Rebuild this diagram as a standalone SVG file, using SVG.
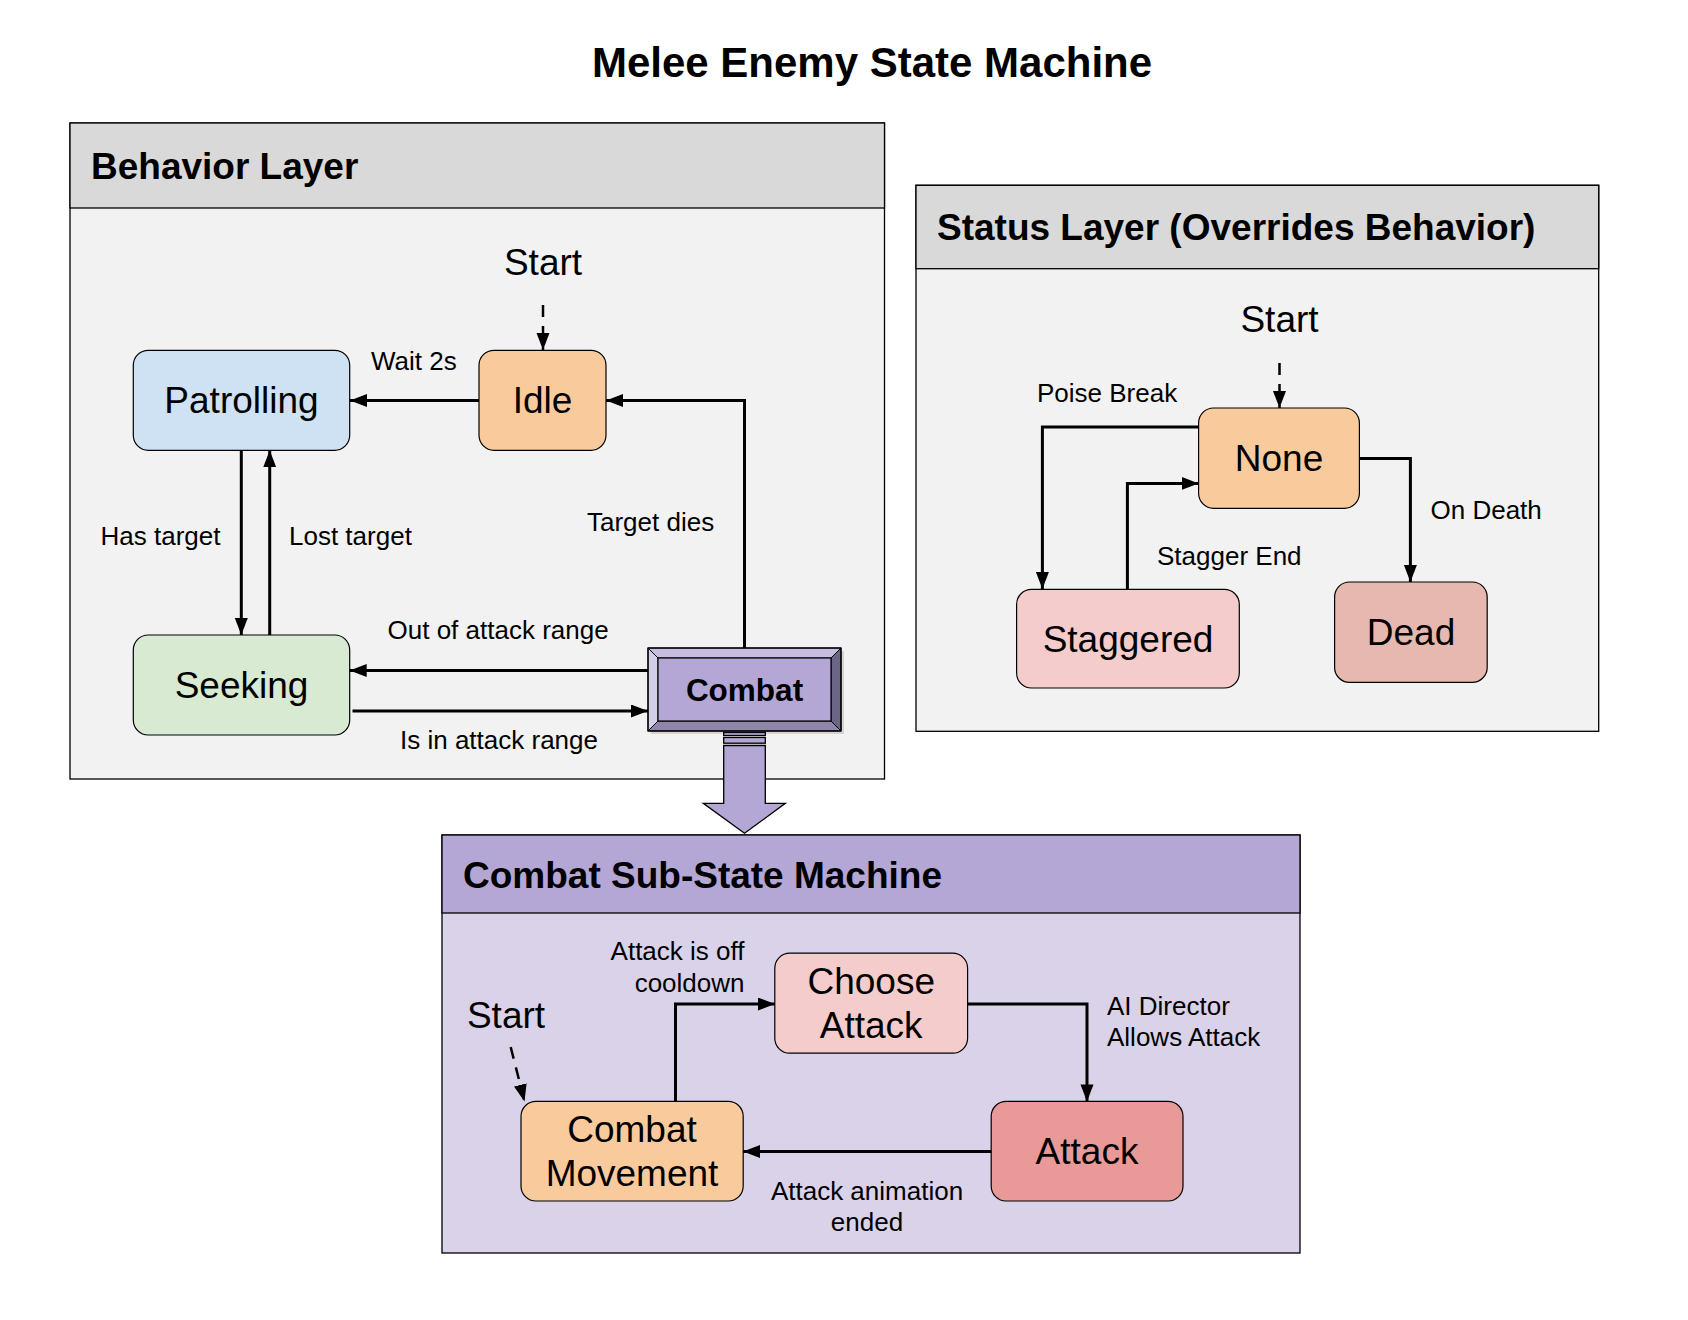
<svg xmlns="http://www.w3.org/2000/svg" width="1688" height="1320" viewBox="0 0 1688 1320">
  <defs>
    <marker id="arr" markerUnits="userSpaceOnUse" markerWidth="18" markerHeight="14" refX="17" refY="6.5" orient="auto">
      <path d="M0,0 L17,6.5 L0,13 z" fill="#000"/>
    </marker>
    <style>
      text { font-family: "Liberation Sans", Arial, sans-serif; fill: #000; }
      .title { font-size: 42px; font-weight: bold; text-anchor: middle; }
      .hdr { font-size: 37px; font-weight: bold; }
      .node-text { font-size: 37px; text-anchor: middle; }
      .lbl { font-size: 26px; }
      .mid { text-anchor: middle; }
      .end { text-anchor: end; }
      .cont-body { fill: #f2f2f2; stroke: #000; stroke-width: 1.3; }
      .cont-head { fill: #d9d9d9; stroke: #000; stroke-width: 1.3; }
      .node { stroke: #000; stroke-width: 1.2; }
      .edge { fill: none; stroke: #000; stroke-width: 3; marker-end: url(#arr); }
      .dash { fill: none; stroke: #000; stroke-width: 2.5; stroke-dasharray: 12 9; marker-end: url(#arr); }
    </style>
  </defs>
  <rect width="1688" height="1320" fill="#fff"/>

  <text class="title" x="872" y="77">Melee Enemy State Machine</text>

  <!-- Behavior layer container -->
  <g id="behavior-layer">
    <rect class="cont-body" x="70" y="123" width="814.5" height="656"/>
    <rect class="cont-head" x="70" y="123" width="814.5" height="85"/>
    <text class="hdr" x="91" y="179">Behavior Layer</text>
  </g>

  <!-- Status layer container -->
  <g id="status-layer">
    <rect class="cont-body" x="916" y="185.3" width="682.7" height="546"/>
    <rect class="cont-head" x="916" y="185.3" width="682.7" height="83.4"/>
    <text class="hdr" x="937" y="240">Status Layer (Overrides Behavior)</text>
  </g>

  <!-- Combat sub-state container -->
  <g id="combat-substate">
    <rect x="442" y="835" width="858" height="418" fill="#d9d2e9" stroke="#000" stroke-width="1.3"/>
    <rect x="442" y="835" width="858" height="78" fill="#b4a7d6" stroke="#000" stroke-width="1.3"/>
    <text class="hdr" x="463" y="888">Combat Sub-State Machine</text>
  </g>

  <!-- Flex arrow from Combat to sub-state machine -->
  <g id="combat-expand-arrow" stroke="#000" stroke-width="1.3">
    <rect x="723.7" y="732.3" width="41.6" height="3.2" fill="#b4a7d6"/>
    <rect x="723.7" y="737.5" width="41.6" height="5.7" fill="#b4a7d6"/>
    <polygon points="723.7,745.5 765.3,745.5 765.3,803.3 785.3,803.3 744.5,833.3 703.3,803.3 723.7,803.3" fill="#b4a7d6"/>
  </g>

  <!-- Start labels -->
  <g id="start-behavior"><text class="node-text" x="543" y="275">Start</text></g>
  <g id="start-status"><text class="node-text" x="1279.5" y="332">Start</text></g>
  <g id="start-combat"><text class="node-text" x="506" y="1028">Start</text></g>

  <!-- Behavior nodes -->
  <g id="patrolling">
    <rect class="node" x="133.3" y="350.3" width="216.4" height="100" rx="15" fill="#cfe2f3"/>
    <text class="node-text" x="241.5" y="413">Patrolling</text>
  </g>
  <g id="idle">
    <rect class="node" x="479" y="350.3" width="127" height="100" rx="15" fill="#f9cb9c"/>
    <text class="node-text" x="542.5" y="413">Idle</text>
  </g>
  <g id="seeking">
    <rect class="node" x="133.3" y="635" width="216.4" height="100" rx="15" fill="#d9ead3"/>
    <text class="node-text" x="241.5" y="698">Seeking</text>
  </g>
  <g id="combat">
    <rect x="651" y="651" width="193" height="83" fill="#000" opacity="0.12"/>
    <rect x="648" y="648" width="193" height="83" fill="#b4a7d6"/>
    <polygon points="648,648 841,648 831,658 658,658" fill="#c6bde0" stroke="#000" stroke-width="1"/>
    <polygon points="648,648 658,658 658,721 648,731" fill="#d5cee9" stroke="#000" stroke-width="1"/>
    <polygon points="841,648 841,731 831,721 831,658" fill="#6d6586" stroke="#000" stroke-width="1"/>
    <polygon points="648,731 658,721 831,721 841,731" fill="#8f86aa" stroke="#000" stroke-width="1"/>
    <rect x="658" y="658" width="173" height="63" fill="#b4a7d6" stroke="#000" stroke-width="1.2"/>
    <rect x="648" y="648" width="193" height="83" fill="none" stroke="#000" stroke-width="1.3"/>
    <text x="744.5" y="701" text-anchor="middle" font-size="31.5" font-weight="bold">Combat</text>
  </g>

  <!-- Status nodes -->
  <g id="none">
    <rect class="node" x="1198.6" y="408" width="160.8" height="100.3" rx="15" fill="#f9cb9c"/>
    <text class="node-text" x="1279" y="471">None</text>
  </g>
  <g id="staggered">
    <rect class="node" x="1016.6" y="589.4" width="222.7" height="98.6" rx="15" fill="#f4cccc"/>
    <text class="node-text" x="1128" y="652">Staggered</text>
  </g>
  <g id="dead">
    <rect class="node" x="1334.6" y="582" width="152.6" height="100.4" rx="15" fill="#e6b8af"/>
    <text class="node-text" x="1411" y="645">Dead</text>
  </g>

  <!-- Combat sub-state nodes -->
  <g id="choose-attack">
    <rect class="node" x="774.8" y="953.2" width="192.8" height="100" rx="15" fill="#f4cccc"/>
    <text class="node-text" x="871.2" y="994">Choose</text>
    <text class="node-text" x="871.2" y="1038.4">Attack</text>
  </g>
  <g id="attack">
    <rect class="node" x="991.2" y="1101.4" width="191.8" height="99.6" rx="15" fill="#ea9999"/>
    <text class="node-text" x="1087" y="1164">Attack</text>
  </g>
  <g id="combat-movement">
    <rect class="node" x="521" y="1101.4" width="222.2" height="99.6" rx="15" fill="#f9cb9c"/>
    <text class="node-text" x="632" y="1142">Combat</text>
    <text class="node-text" x="632" y="1186.4">Movement</text>
  </g>

  <!-- Connectors -->
  <g id="connectors">
    <path class="dash" d="M543,305 L543,350"/>
    <path class="edge" d="M479,400.5 L350,400.5"/>
    <path class="edge" d="M744.5,648 L744.5,400.5 L606,400.5"/>
    <path class="edge" d="M241.3,450.3 L241.3,635"/>
    <path class="edge" d="M269.7,635 L269.7,450.3"/>
    <path class="edge" d="M648,670.5 L349.7,670.5"/>
    <path class="edge" d="M352.5,711 L648,711"/>

    <path class="dash" d="M1279.5,363 L1279.5,408"/>
    <path class="edge" d="M1198.6,427 L1042.4,427 L1042.4,589"/>
    <path class="edge" d="M1127.4,589.4 L1127.4,483.4 L1198.6,483.4"/>
    <path class="edge" d="M1359.4,458.5 L1410.4,458.5 L1410.4,582"/>

    <path class="dash" d="M510.7,1047 L524.5,1101.4"/>
    <path class="edge" d="M675.5,1101.4 L675.5,1004 L774.8,1004"/>
    <path class="edge" d="M967.6,1004 L1087,1004 L1087,1101.4"/>
    <path class="edge" d="M991.2,1151.5 L743.2,1151.5"/>
  </g>

  <!-- Connector labels -->
  <g id="labels">
    <text class="lbl" x="371" y="370">Wait 2s</text>
    <text class="lbl" x="100.5" y="545">Has target</text>
    <text class="lbl" x="289" y="545">Lost target</text>
    <text class="lbl" x="587" y="531">Target dies</text>
    <text class="lbl" x="387.5" y="639">Out of attack range</text>
    <text class="lbl" x="400" y="749">Is in attack range</text>
    <text class="lbl" x="1037" y="402">Poise Break</text>
    <text class="lbl" x="1157" y="564.5">Stagger End</text>
    <text class="lbl" x="1430.5" y="518.6">On Death</text>
    <text class="lbl end" x="744.5" y="960">Attack is off</text>
    <text class="lbl end" x="744.5" y="992">cooldown</text>
    <text class="lbl" x="1107" y="1015">AI Director</text>
    <text class="lbl" x="1107" y="1046">Allows Attack</text>
    <text class="lbl mid" x="867" y="1200">Attack animation</text>
    <text class="lbl mid" x="867" y="1231">ended</text>
  </g>
</svg>
